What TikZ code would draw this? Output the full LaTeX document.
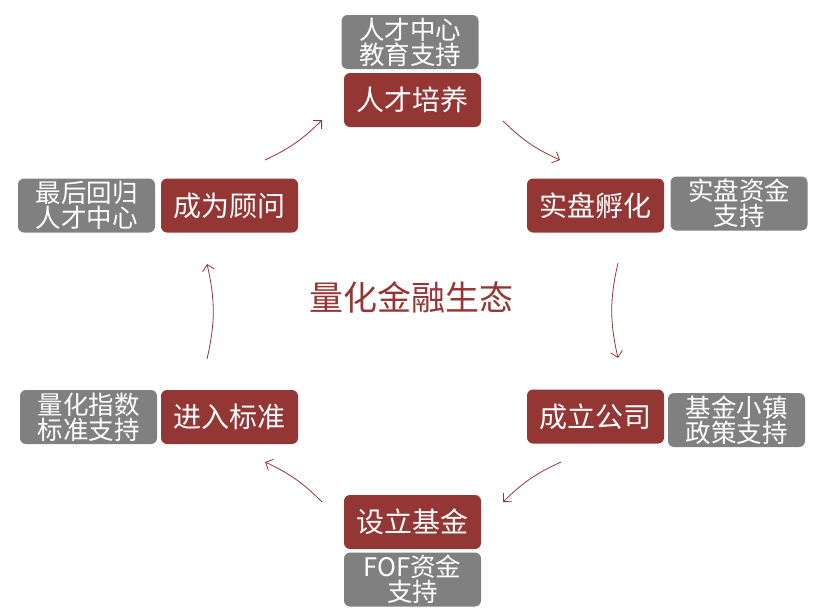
\documentclass[tikz,border=0pt]{standalone}
\usepackage{fontspec}
\setmainfont{Noto Sans CJK SC}
\usetikzlibrary{arrows.meta}
\definecolor{myred}{HTML}{943634}
\definecolor{mygray}{HTML}{808080}
\begin{document}
\begin{tikzpicture}[x=1pt,y=-1pt,
  redbox/.style={fill=myred, rounded corners=6pt, minimum width=137pt, minimum height=54pt, text=white, font=\fontsize{28}{30}\selectfont, inner sep=0pt},
  graybox/.style={fill=mygray, rounded corners=6pt, minimum width=137pt, minimum height=54pt, text=white, font=\fontsize{25.5}{25}\selectfont, align=center, inner sep=0pt},
  cyc/.style={draw=myred, line width=0.8pt, -{Straight Barb[length=6pt,width=12pt]}}]
\useasboundingbox (0,0) rectangle (834,613);
% step boxes
\node[redbox] (s1) at (412.5,100) {人才培养};
\node[redbox] (s2) at (595.5,205.5) {实盘孵化};
\node[redbox] (s3) at (595.5,416.5) {成立公司};
\node[redbox] (s4) at (412.5,522) {设立基金};
\node[redbox] (s5) at (229.5,417) {进入标准};
\node[redbox] (s6) at (229.5,205.5) {成为顾问};
% support boxes
\node[graybox] (g1) at (410,42) {人才中心\\教育支持};
\node[graybox] (g2) at (739,203.5) {实盘资金\\支持};
\node[graybox] (g3) at (736.5,420) {基金小镇\\政策支持};
\node[graybox] (g4) at (412.5,579.5) {FOF资金\\支持};
\node[graybox] (g5) at (88.5,417) {量化指数\\标准支持};
\node[graybox] (g6) at (86.5,205.5) {最后回归\\人才中心};
% centre
\node[text=myred, font=\fontsize{34}{36}\selectfont] (c) at (411,297) {量化金融生态};
% arrow ends
\coordinate (a1s) at (503,121); \coordinate (a1e) at (560,160);
\coordinate (a2s) at (618,263); \coordinate (a2e) at (618,358);
\coordinate (a3s) at (561,462); \coordinate (a3e) at (503,502);
\coordinate (a4s) at (322,502); \coordinate (a4e) at (265,462);
\coordinate (a5s) at (207,359); \coordinate (a5e) at (207,264);
\coordinate (a6s) at (265,160); \coordinate (a6e) at (322,120);
\draw[cyc] (a1s) to[bend right=10] (a1e);
\draw[cyc] (a2s) to[bend right=13] (a2e);
\draw[cyc] (a3s) to[bend right=10] (a3e);
\draw[cyc] (a4s) to[bend right=10] (a4e);
\draw[cyc] (a5s) to[bend right=13] (a5e);
\draw[cyc] (a6s) to[bend right=10] (a6e);
\end{tikzpicture}
\end{document}
